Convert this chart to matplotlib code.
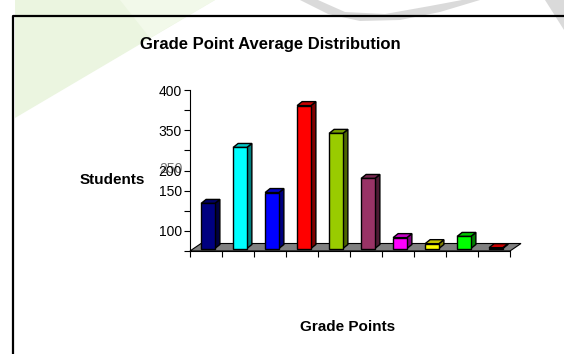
import numpy as np
import matplotlib

matplotlib.use("Agg")
import matplotlib.pyplot as plt
from matplotlib.colors import to_rgb
from matplotlib.patches import Polygon
from matplotlib.transforms import IdentityTransform, offset_copy

plt.rcParams["font.family"] = ["Liberation Sans", "DejaVu Sans"]

# data
grades = ["A", "A-", "B+", "B", "B-", "C+", "C", "C-", "D", "F"]
students = [112, 251, 139, 355, 286, 174, 27, 12, 30, 2]
bar_colors = ["#000080", "#00ffff", "#0000ff", "#ff0000", "#99cc00",
              "#993366", "#ff00ff", "#ffff00", "#00ff00", "#ff0000"]
ytick_vals = [0, 50, 100, 150, 200, 250, 300, 350, 400]
ytick_text = ["", "100", "", "150", "200", "", "350", "", "400"]

W, H = 564, 354
fig = plt.figure(figsize=(W / 100, H / 100), dpi=100)

# page background (watermark + frame), pixel coords
bg = fig.add_axes([0, 0, 1, 1])
bg.set_xlim(0, W)
bg.set_ylim(H, 0)
bg.axis("off")
bg.add_patch(Polygon([(15, 0), (215, 0), (15, 118)], closed=True, color="#ebf5e0", lw=0))
bg.add_patch(Polygon([(120, 0), (215, 0), (150, 38)], closed=True, color="#f2f9ea", lw=0))
bg.add_patch(Polygon([(300, 0), (318, 0), (345, 12), (385, 14), (430, 6), (462, 0),
                      (480, 0), (440, 12), (400, 20), (360, 21), (328, 14)],
                     closed=True, color="#dadada", lw=0))
bg.add_patch(Polygon([(545, 0), (564, 0), (564, 30)], closed=True, color="#dadada", lw=0))
bg.plot([12.5, 12.5, W], [H, 15.5, 15.5], color="black", lw=1.6, solid_capstyle="butt")

fig.text(270 / W, 1 - 45 / H, "Grade Point Average Distribution", ha="center", va="center",
         fontsize=12, fontweight="bold")
fig.text(112 / W, 1 - 180 / H, "Students", ha="center", va="center",
         fontsize=11, fontweight="bold")
fig.text(348 / W, 1 - 327 / H, "Grade Points", ha="center", va="center",
         fontsize=11, fontweight="bold")

# chart area
ax = fig.add_axes([190 / W, 103 / H, 320 / W, 161 / H])
ax.set_xlim(0, len(grades))
ax.set_ylim(0, 400)
ax.patch.set_visible(False)
ax.spines[["top", "right"]].set_visible(False)
for s in ("left", "bottom"):
    ax.spines[s].set_linewidth(0.8)
ax.set_xticks(range(len(grades) + 1))
ax.set_xticklabels([])
ax.set_yticks(ytick_vals)
ax.set_yticklabels(ytick_text)
ax.tick_params(axis="both", direction="out", length=4, width=0.8, labelsize=10, pad=2)

# the garbled label drawn over "200"
ax.text(0, 200, "250", transform=offset_copy(ax.get_yaxis_transform(), fig, x=-7, y=1.5, units="dots"),
        ha="right", va="center", fontsize=10, alpha=0.55, clip_on=False)

to_disp = ax.transData.transform
pix = IdentityTransform()

# 3D floor
fdx, fdy = 11, 7.5
f0 = to_disp((0, 0))
f1 = to_disp((len(grades), 0))
floor = [f0, f1, f1 + [fdx, fdy], f0 + [fdx, fdy]]
ax.add_patch(Polygon(floor, closed=True, transform=pix, facecolor="#808080",
                     edgecolor="black", lw=0.8, zorder=1, clip_on=False))

# bars: front face through the axes, side/top faces offset in pixels
sx, sy = 2, 2.5
ddx, ddy = 5, 4
xs = np.arange(len(grades)) + 0.5
width = 0.43
front_tr = offset_copy(ax.transData, fig, x=sx, y=sy, units="dots")
bars = ax.bar(xs, students, width=width, color=bar_colors, edgecolor="black", lw=1.0,
              transform=front_tr, zorder=4, clip_on=False)
for b, c in zip(bars, bar_colors):
    rgb = np.array(to_rgb(c))
    x0, y0 = b.get_x(), b.get_y()
    x1, y1 = x0 + b.get_width(), y0 + b.get_height()
    br = to_disp((x1, y0)) + [sx, sy]
    tl = to_disp((x0, y1)) + [sx, sy]
    tr = to_disp((x1, y1)) + [sx, sy]
    side = [br, tr, tr + [ddx, ddy], br + [ddx, ddy]]
    top = [tl, tr, tr + [ddx, ddy], tl + [ddx, ddy]]
    ax.add_patch(Polygon(side, closed=True, transform=pix, facecolor=rgb * 0.5,
                         edgecolor="black", lw=1.0, zorder=3, clip_on=False))
    ax.add_patch(Polygon(top, closed=True, transform=pix, facecolor=rgb * 0.78,
                         edgecolor="black", lw=1.0, zorder=3, clip_on=False))

fig.savefig("out.png", dpi=100)
